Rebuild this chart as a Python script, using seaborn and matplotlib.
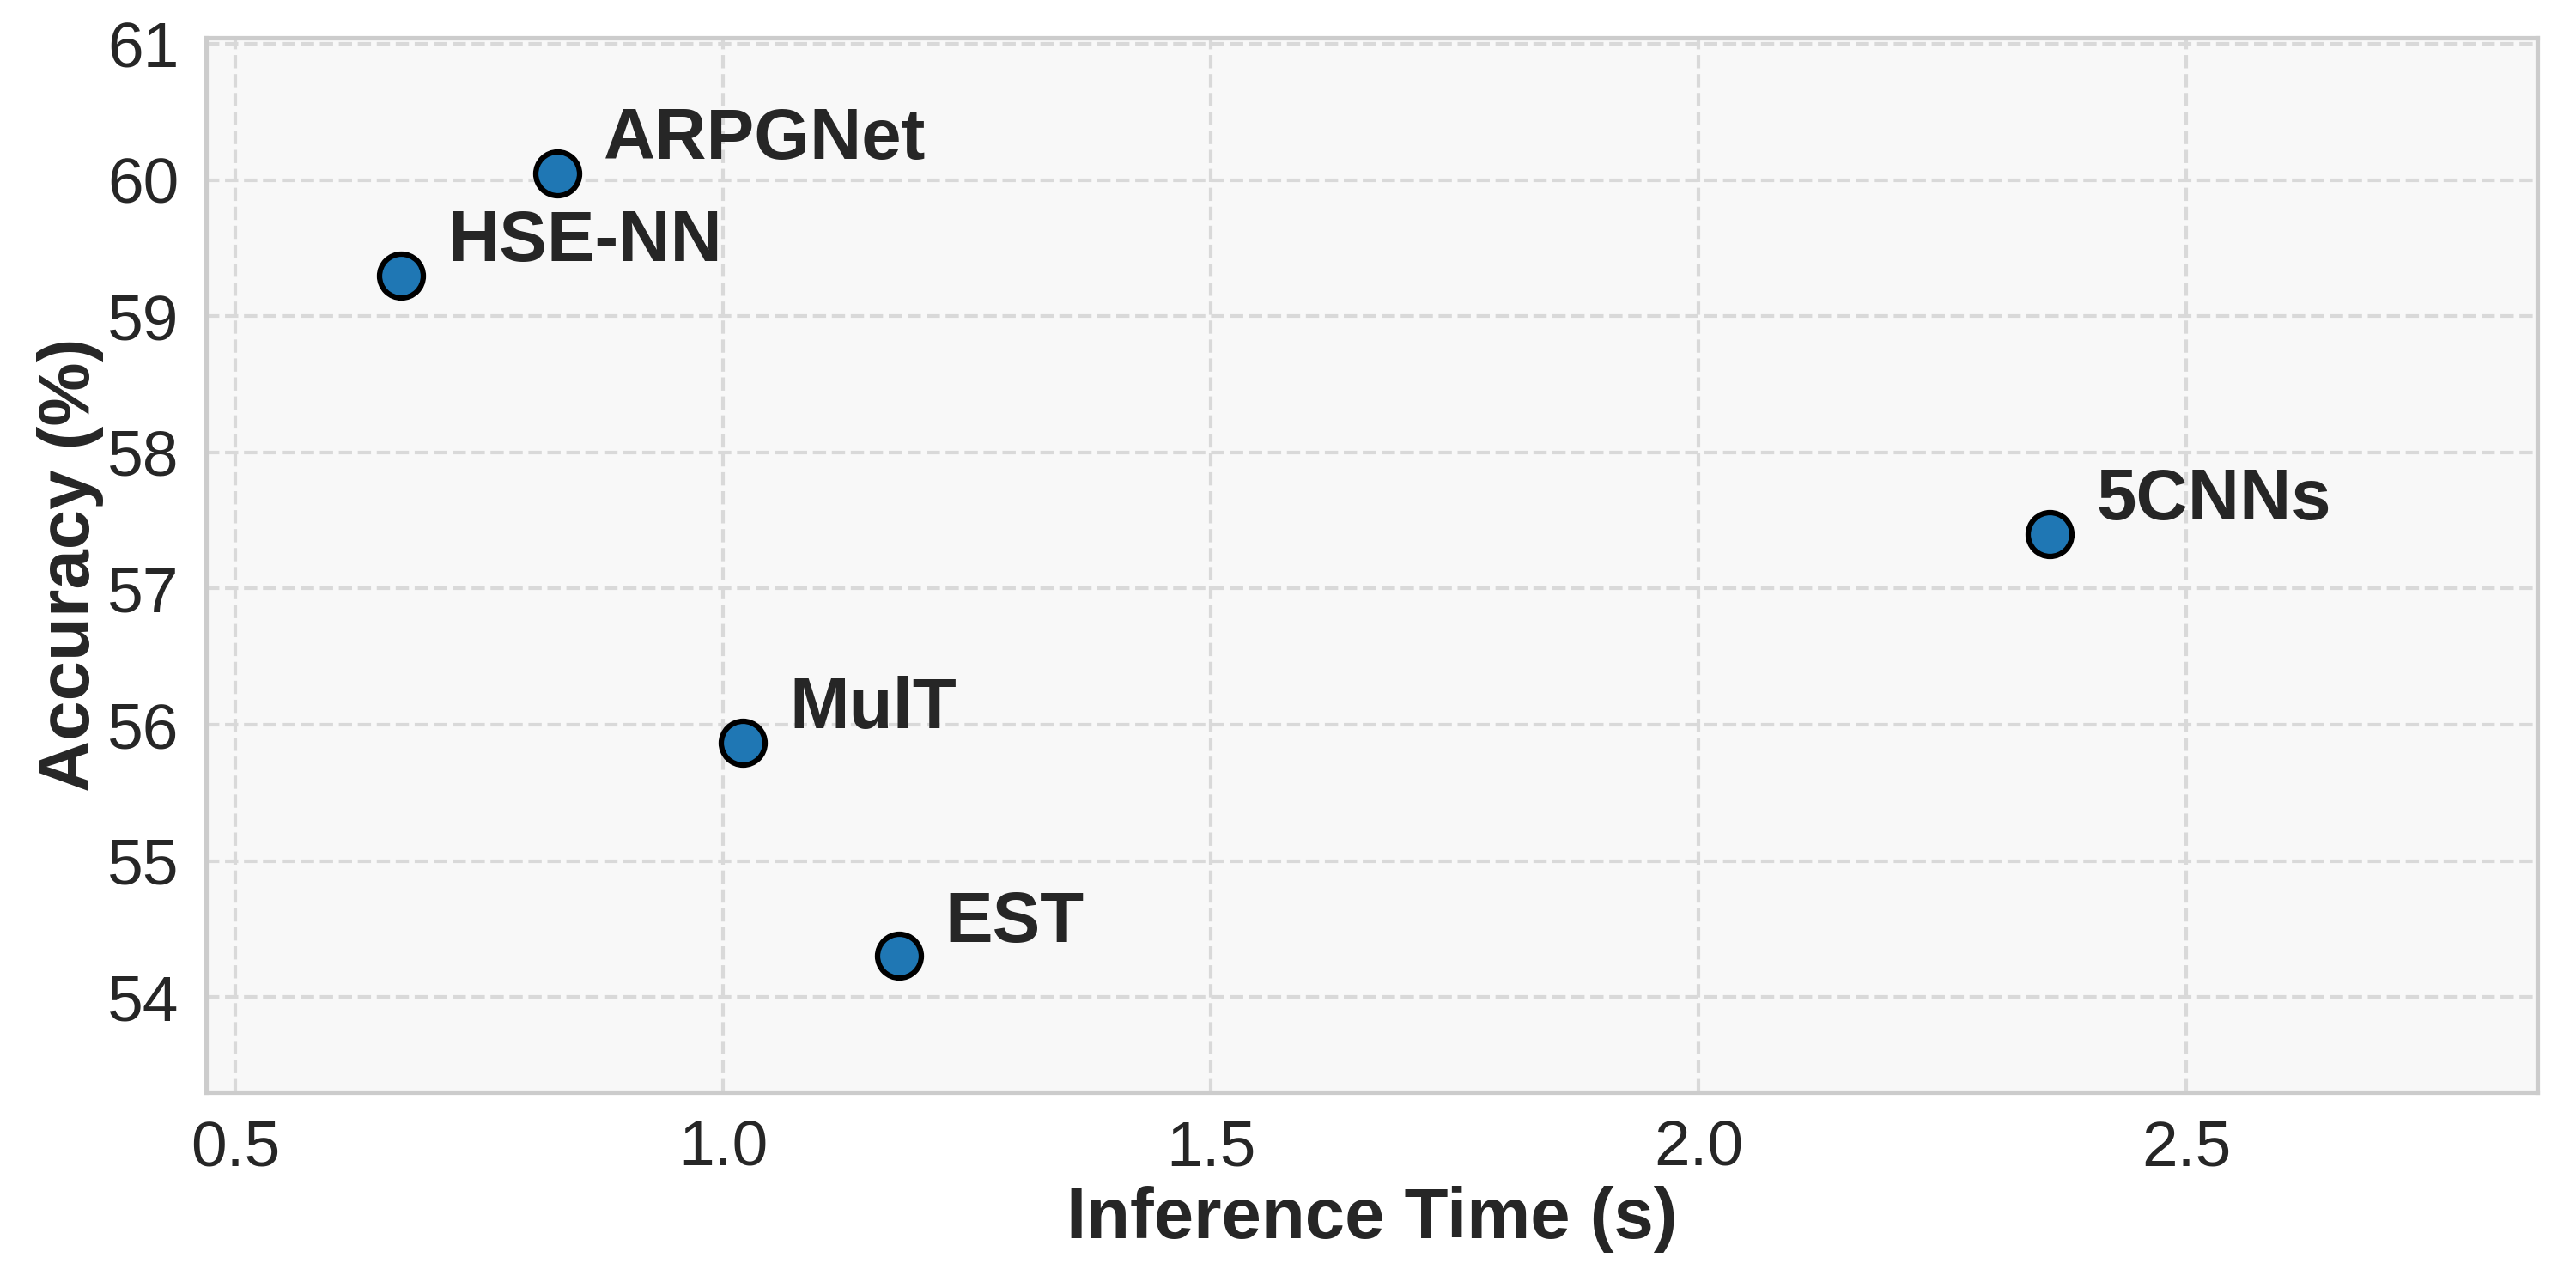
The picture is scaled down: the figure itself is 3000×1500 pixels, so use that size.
import matplotlib
matplotlib.use("Agg")
import matplotlib.pyplot as plt
import seaborn as sns
import pandas as pd

# values
models = ["ARPGNet", "HSE-NN", "5CNNs", "MulT", "EST"]
inference_time = [0.83, 0.67, 2.36, 1.02, 1.18]
accuracy = [60.05, 59.30, 57.40, 55.87, 54.30]

df = pd.DataFrame({"model": models, "time": inference_time, "acc": accuracy})

sns.set_style("whitegrid")
plt.rcParams["font.family"] = ["Liberation Sans", "DejaVu Sans"]

fig, ax = plt.subplots(figsize=(10, 5), dpi=300)
ax.set_facecolor("#f8f8f8")

sns.scatterplot(data=df, x="time", y="acc", s=150, color="#1f77b4",
                edgecolor="black", linewidth=1.5, zorder=3, ax=ax)

for _, row in df.iterrows():
    ax.annotate(row["model"], (row["time"], row["acc"]),
                xytext=(13, 4), textcoords="offset points",
                fontsize=20, fontweight="bold", color="#262626")

ax.set_xlim(min(inference_time) - 0.2, max(inference_time) + 0.5)
ax.set_ylim(min(accuracy) - 1, max(accuracy) + 1)
ax.set_xticks([0.5, 1.0, 1.5, 2.0, 2.5])
ax.set_yticks(range(54, 62))

ax.grid(True, linestyle="--", linewidth=1, color="#d9d9d9")
for sp in ax.spines.values():
    sp.set_color("#cccccc")
    sp.set_linewidth(1.25)

ax.set_xlabel("Inference Time (s)", fontsize=20, fontweight="bold", color="#262626", labelpad=2)
ax.set_ylabel("Accuracy (%)", fontsize=20, fontweight="bold", color="#262626", labelpad=1)
ax.tick_params(labelsize=18, colors="#262626", pad=4)

fig.subplots_adjust(left=0.08, right=0.985, top=0.971, bottom=0.152)
fig.savefig("out.png", dpi=300)
